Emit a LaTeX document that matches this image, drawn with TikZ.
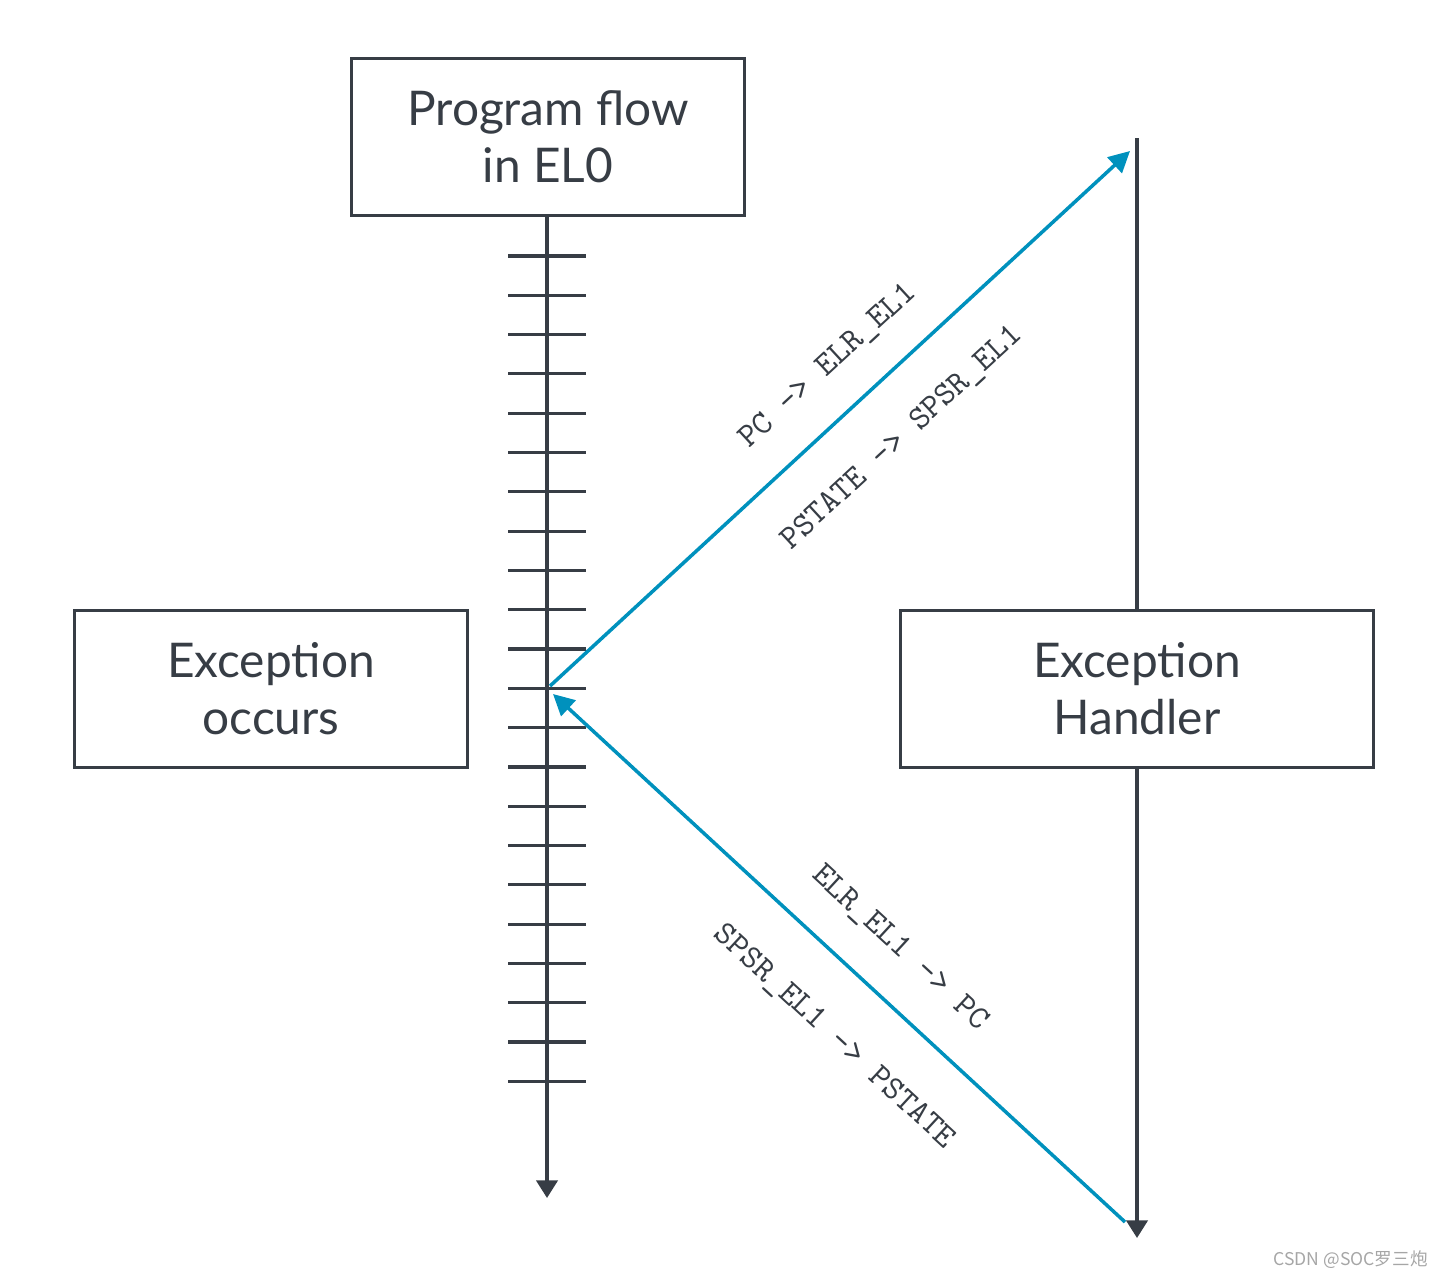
\documentclass[tikz,border=0pt]{standalone}
\usepackage{fontspec}
\setmainfont{Lato}
\newfontfamily\cjk{Noto Sans CJK SC}
\usetikzlibrary{arrows.meta,positioning}
\definecolor{grisOscuro}{RGB}{55, 61, 69}
\definecolor{azul}{RGB}{0, 145, 189}
\tikzstyle{box}  =[draw=grisOscuro, line width=1pt, minimum width=3.93cm,
                   minimum height=1.57cm, align=center, text=grisOscuro,
                   font=\fontsize{13.6pt}{16.2pt}\selectfont, inner sep=0pt]
\tikzstyle{flow} =[grisOscuro, line width=1pt, -{Triangle[length=5pt,width=6pt]}]
\tikzstyle{tick} =[grisOscuro, line width=0.9pt]
\tikzstyle{edge} =[azul, line width=1pt, -{Triangle[length=6pt,width=6pt]}]
\tikzstyle{reg}  =[text=grisOscuro, font=\ttfamily\fontsize{9.5pt}{10pt}\selectfont]

\begin{document}
\begin{tikzpicture}[x=0.01cm,y=-0.01cm]
    \useasboundingbox (0,0) rectangle (1455,1278);

    \node (prog) [box] at (548,137) {Program flow\\in EL0};
    \node (occ)  [box] at (271,689) {Exception\\occurs};
    \node (hand) [box, minimum width=4.73cm] at (1137,689) {Exception\\Handler};

    \coordinate (progend) at (547,1198);
    \draw [flow] (prog.south -| progend) -- (progend);
    \foreach \i in {0,...,21}
        \draw [tick] (508,256+39.3*\i) -- (586,256+39.3*\i);

    \coordinate (htop) at (1137,138);
    \coordinate (hend) at (1137,1238);
    \draw [grisOscuro, line width=1pt] (htop) -- (hand.north);
    \draw [flow] (hand.south) -- (hend);

    \coordinate (exc)  at (550,686);
    \coordinate (ret)  at (553,694);
    \coordinate (vec)  at (1130,151);
    \coordinate (eret) at (1125,1222);
    \draw [edge] (exc) -- (vec);
    \draw [edge] (eret) -- (ret);

    \node [reg, rotate=42.7] at (828,366) {PC -> ELR\_EL1};
    \node [reg, rotate=42.7] at (902,438) {PSTATE -> SPSR\_EL1};
    \node [reg, rotate=-42.7] at (900,948) {ELR\_EL1 -> PC};
    \node [reg, rotate=-42.7] at (834,1037) {SPSR\_EL1 -> PSTATE};

    \node [text=gray!70, font=\cjk\fontsize{5pt}{6pt}\selectfont, anchor=east] at (1440,1260) {CSDN @SOC罗三炮};
\end{tikzpicture}
\end{document}
